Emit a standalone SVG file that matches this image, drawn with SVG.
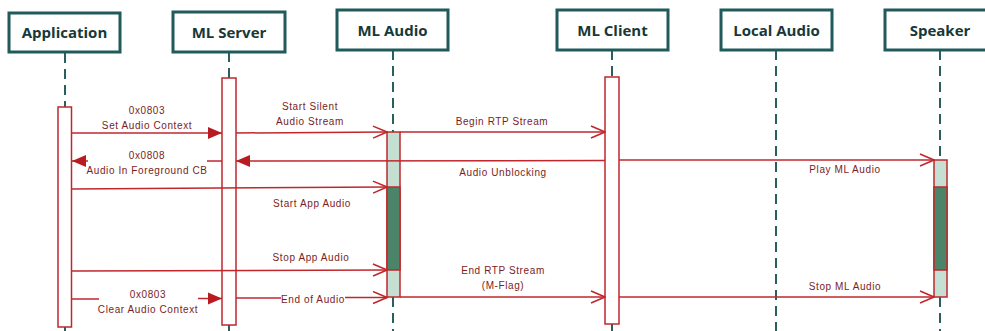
<svg xmlns="http://www.w3.org/2000/svg" width="985" height="331" viewBox="0 0 985 331">
<style>
.box{fill:#fff;stroke:#215a5a;stroke-width:3}
.title{font-family:"Open Sans","Liberation Sans",sans-serif;font-weight:bold;font-size:15px;fill:#173838;text-anchor:middle}
.life{stroke:#2b5e5e;stroke-width:2;stroke-dasharray:10,6;fill:none}
.act{fill:#fff;stroke:#c0272d;stroke-width:1.5}
.light{fill:#c6dfd3;stroke:#c0272d;stroke-width:1.5}
.dark{fill:#4b8468;stroke:#c0272d;stroke-width:1.5}
.msg{stroke:#c0272d;stroke-width:1.5;fill:none}
.lbl{font-family:"Liberation Sans",sans-serif;font-size:10px;letter-spacing:0.6px;fill:#7a1d1d;text-anchor:middle}
</style>
<defs>
<marker id="open" markerWidth="16" markerHeight="14" refX="15" refY="7" orient="auto" markerUnits="userSpaceOnUse">
<path d="M1,1 L15,7 L1,13" fill="none" stroke="#c0272d" stroke-width="1.5"/>
</marker>
<marker id="fill" markerWidth="16" markerHeight="14" refX="15" refY="7" orient="auto" markerUnits="userSpaceOnUse">
<path d="M1,1 L15,7 L1,13 Z" fill="#b81c22"/>
</marker>
</defs>

<g id="lifelines">
<line class="life" x1="65" y1="53" x2="65" y2="107"/>
<line class="life" x1="65" y1="327" x2="65" y2="335"/>
<line class="life" x1="229" y1="52" x2="229" y2="78"/>
<line class="life" x1="229" y1="325" x2="229" y2="335"/>
<line class="life" x1="393" y1="50" x2="393" y2="132"/>
<line class="life" x1="393" y1="297" x2="393" y2="335"/>
<line class="life" x1="612" y1="50" x2="612" y2="77"/>
<line class="life" x1="612" y1="324" x2="612" y2="335"/>
<line class="life" x1="776" y1="50" x2="776" y2="335"/>
<line class="life" x1="940" y1="50" x2="940" y2="160"/>
<line class="life" x1="940" y1="297" x2="940" y2="335"/>
</g>

<g id="application">
<rect class="box" x="9" y="13" width="111" height="39"/>
<text class="title" x="64.5" y="38">Application</text>
<rect class="act" x="58" y="107" width="13.5" height="220"/>
</g>
<g id="ml-server">
<rect class="box" x="173" y="12" width="112" height="40"/>
<text class="title" x="229" y="38">ML Server</text>
<rect class="act" x="222" y="78" width="14" height="247"/>
</g>
<g id="ml-audio">
<rect class="box" x="337" y="10" width="111" height="40"/>
<text class="title" x="392.5" y="36">ML Audio</text>
<rect class="light" x="387" y="132" width="13" height="165"/>
<rect class="dark" x="387" y="187" width="13" height="83"/>
</g>
<g id="ml-client">
<rect class="box" x="557" y="10" width="111" height="40"/>
<text class="title" x="612.5" y="36">ML Client</text>
<rect class="act" x="605" y="77" width="14" height="247"/>
</g>
<g id="local-audio">
<rect class="box" x="721" y="10" width="111" height="40"/>
<text class="title" x="776.5" y="36">Local Audio</text>
</g>
<g id="speaker">
<rect class="box" x="885" y="10" width="111" height="40"/>
<text class="title" x="940" y="36">Speaker</text>
<rect class="light" x="934" y="160" width="13" height="137"/>
<rect class="dark" x="934" y="187" width="13" height="83"/>
</g>

<g id="connectors">
<line class="msg" x1="71.5" y1="133" x2="222" y2="133" marker-end="url(#fill)"/>
<line class="msg" x1="236" y1="133" x2="387" y2="132" marker-end="url(#open)"/>
<line class="msg" x1="400" y1="132" x2="605" y2="132" marker-end="url(#open)"/>
<line class="msg" x1="207" y1="161" x2="222" y2="161"/>
<line class="msg" x1="88" y1="161" x2="72" y2="161" marker-end="url(#fill)"/>
<line class="msg" x1="605" y1="160.5" x2="236" y2="161" marker-end="url(#fill)"/>
<line class="msg" x1="619" y1="160" x2="934" y2="160" marker-end="url(#open)"/>
<line class="msg" x1="71.5" y1="189" x2="387" y2="187" marker-end="url(#open)"/>
<line class="msg" x1="71.5" y1="271" x2="387" y2="270" marker-end="url(#open)"/>
<line class="msg" x1="71.5" y1="299" x2="99" y2="299"/>
<line class="msg" x1="198" y1="298.5" x2="222" y2="298.5" marker-end="url(#fill)"/>
<line class="msg" x1="236" y1="298" x2="281" y2="298"/>
<line class="msg" x1="345" y1="297.5" x2="387" y2="297.5" marker-end="url(#open)"/>
<line class="msg" x1="400" y1="297" x2="605" y2="297" marker-end="url(#open)"/>
<line class="msg" x1="619" y1="297" x2="934" y2="297" marker-end="url(#open)"/>
</g>

<g id="labels">
<text class="lbl" x="147" y="114">0x0803</text>
<text class="lbl" x="147" y="129">Set Audio Context</text>
<text class="lbl" x="147" y="159">0x0808</text>
<text class="lbl" x="147" y="174">Audio In Foreground CB</text>
<text class="lbl" x="310" y="110">Start Silent</text>
<text class="lbl" x="310" y="125">Audio Stream</text>
<text class="lbl" x="502" y="125">Begin RTP Stream</text>
<text class="lbl" x="503" y="176">Audio Unblocking</text>
<text class="lbl" x="845" y="173">Play ML Audio</text>
<text class="lbl" x="312" y="207">Start App Audio</text>
<text class="lbl" x="311" y="261">Stop App Audio</text>
<text class="lbl" x="503" y="274">End RTP Stream</text>
<text class="lbl" x="503" y="289">(M-Flag)</text>
<text class="lbl" x="845" y="290">Stop ML Audio</text>
<text class="lbl" x="148" y="298">0x0803</text>
<text class="lbl" x="148" y="313">Clear Audio Context</text>
<text class="lbl" x="313" y="303">End of Audio</text>
</g>
</svg>
